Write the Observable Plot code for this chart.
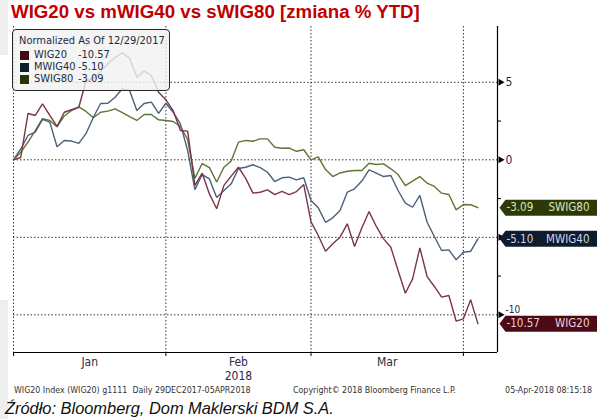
<!DOCTYPE html>
<html><head><meta charset="utf-8">
<script src="https://cdn.jsdelivr.net/npm/d3@7"></script>
<script src="https://cdn.jsdelivr.net/npm/@observablehq/plot@0.6"></script>
<style>
body{margin:0;background:#fff;width:597px;height:419px;position:relative;overflow:hidden;font-family:"DejaVu Sans Condensed","DejaVu Sans",sans-serif;}
.strip{position:absolute;left:0;width:8px;background:#eeeeee}
#title{position:absolute;left:11px;top:0;font:bold 18.7px "Liberation Sans",Arial,sans-serif;color:#c00000;white-space:nowrap;line-height:24px}
#chart{position:absolute;left:0;top:24px}
#legend{position:absolute;left:12px;top:29px;width:156px;height:60px;background:rgba(242,242,242,0.82);border:1px solid #2a2a2a;border-radius:4px;font-size:11px;color:#1c2b42;font-family:"DejaVu Sans Condensed","DejaVu Sans",sans-serif}
#legend .hd{position:absolute;left:6px;top:4px;white-space:nowrap;line-height:13px}
#legend .row{position:absolute;left:7px;white-space:nowrap;line-height:12px;height:12px}
#legend .sw{position:absolute;left:0;top:2px;width:9px;height:9px}
#legend .nm{position:absolute;left:14px;top:0}
#legend .vl{position:absolute;left:58px;top:0}
.foot{position:absolute;top:385px;font-size:8.8px;line-height:10px;color:#333;white-space:nowrap;font-family:"DejaVu Sans Condensed","DejaVu Sans",sans-serif}
#src{position:absolute;left:5px;top:399px;font:italic 16.4px "Liberation Sans",Arial,sans-serif;line-height:18px;color:#111;white-space:nowrap}
</style></head><body>
<div class="strip" style="top:0;height:55px"></div>
<div class="strip" style="top:300px;height:119px"></div>
<div id="title">WIG20 vs mWIG40 vs sWIG80 [zmiana % YTD]</div>
<div id="chart"></div>
<div id="legend"></div>
<div class="foot" style="left:14px">WIG20 Index (WIG20) g1111&nbsp; Daily 29DEC2017-05APR2018</div>
<div class="foot" style="left:293px">Copyright© 2018 Bloomberg Finance L.P.</div>
<div class="foot" style="right:5px">05-Apr-2018 08:15:18</div>
<div id="src">Źródło: Bloomberg, Dom Maklerski BDM S.A.</div>
<script>
// ---- data (normalized % change since 29 Dec 2017, one value per trading day) ----
const seriesNames = ["WIG20", "MWIG40", "SWIG80"];
const wig20 = [0,0.15,2.99,2.86,3.61,2.86,2.15,3.07,3.23,3.39,
  5.1,5.25,5.7,6.2,6.6,6.9,6.55,5.33,5.72,5.44,
  4.36,3.87,3.18,1.89,1.85,-1.65,-0.86,-2.2,-3.16,-1.65,
  -1.05,-0.48,-1.2,-2.15,-2.09,-1.94,-2.24,-2.03,-2.24,-2.05,
  -1.6,-4.0,-4.88,-5.9,-5.42,-4.99,-4.13,-5.59,-4.4,-3.34,
  -4.3,-5.1,-5.64,-7.14,-8.61,-7.68,-5.68,-7.53,-8.17,-8.86,
  -8.75,-10.41,-10.26,-9.03,-10.57];
const mwig40 = [0,0.7,1.57,1.78,2.61,2.43,0.84,1.25,1.21,1.06,
  1.7,2.73,3.63,3.65,4.04,4.58,4.47,3.18,3.63,3.72,
  3.0,3.65,3.07,2.32,0.6,-1.92,-0.95,-1.23,-2.43,-1.98,
  -1.55,-0.56,-0.48,-0.32,-0.5,-0.8,-1.4,-1.16,-1.12,-1.29,
  -1.16,-2.63,-3.1,-4.03,-3.74,-3.27,-2.09,-1.87,-1.37,-0.65,
  -0.86,-1.08,-1.01,-1.98,-2.8,-3.06,-2.3,-4.03,-4.95,-5.85,
  -5.81,-6.45,-5.96,-5.9,-5.1];
const swig80 = [0,0.49,1.14,1.89,2.65,2.54,2.13,2.83,3.18,3.41,
  3.12,2.71,3.07,3.14,3.29,3.05,2.79,2.54,2.92,2.92,
  2.58,2.54,2.47,2.15,1.31,-1.2,-0.24,-0.5,-1.43,-0.48,
  -0.08,1.14,1.25,1.2,1.35,1.35,0.81,0.75,0.76,0.55,
  0.65,0,0.19,-0.63,-1.08,-0.85,-0.74,-0.69,-0.69,-0.22,
  -0.3,-0.26,-0.58,-0.95,-1.66,-1.38,-1.08,-1.51,-1.72,-2.15,
  -2.24,-3.23,-2.88,-2.9,-3.09];
const lastValues = ["-10.57", "-5.10", "-3.09"];
const monthTicks = [0, 21, 41, 62];          // last trading day of Dec, Jan, Feb, Mar
const monthLabels = ["Jan", "Feb", "Mar"];
const monthLabelAt = [10.5, 31, 51.5];
const yearLabel = "2018";
const yearLabelAt = 31;
const yMajor = [5, 0, -5, -10];
const yLabelsShown = [5, 0];                 // -5 is hidden behind the MWIG40 tag
const yLabelsPeek = [-10];                   // -10 peeks out above the WIG20 tag
const yMinor = [2.5, -2.5, -7.5];
const legendTitle = "Normalized As Of 12/29/2017";

// ---- styles ----
const lineColor = {WIG20: "#7a3645", MWIG40: "#4b6079", SWIG80: "#5c7636"};
const swatchColor = {WIG20: "#3f0a14", MWIG40: "#0f1d2d", SWIG80: "#253505"};
const tagColor = {WIG20: "#4a0a16", MWIG40: "#0e1c2e", SWIG80: "#2c3a08"};
const tagText = {WIG20: "#efd0d5", MWIG40: "#cdd8e8", SWIG80: "#dfe3bc"};

const valuesBy = {WIG20: wig20, MWIG40: mwig40, SWIG80: swig80};
const drawOrder = ["SWIG80", "MWIG40", "WIG20"];
const rows = drawOrder.flatMap(n => valuesBy[n].map((v, i) => ({i, v, name: n})));
const lastRows = seriesNames.map((n, k) => ({name: n, v: valuesBy[n][valuesBy[n].length - 1], label: lastValues[k]}));

const xMax = 66.7, yMin = -12.43, yMax = 8.6;
const tag = {draw(ctx) { ctx.moveTo(0, 0); ctx.lineTo(6, -8); ctx.lineTo(100, -8); ctx.lineTo(100, 8); ctx.lineTo(6, 8); ctx.closePath(); }};
const font = "DejaVu Sans Condensed, DejaVu Sans, sans-serif";

const chart = Plot.plot({
  width: 597, height: 362,
  marginLeft: 13, marginRight: 100, marginTop: 2, marginBottom: 34,
  x: {domain: [0, xMax], axis: null},
  y: {domain: [yMin, yMax], axis: null},
  style: {fontFamily: font, background: "transparent", overflow: "visible"},
  marks: [
    Plot.ruleY(yMajor, {stroke: "#333", strokeDasharray: "1.5,2", strokeWidth: 1}),
    Plot.ruleX(monthTicks, {stroke: "#333", strokeDasharray: "1.5,2", strokeWidth: 1}),
    Plot.line(rows, {x: "i", y: "v", z: "name", stroke: d => lineColor[d.name], strokeWidth: 1.4, strokeLinejoin: "miter"}),
    Plot.ruleX([xMax], {stroke: "#000", strokeWidth: 1.2}),
    Plot.ruleY([yMin], {stroke: "#000", strokeWidth: 1.2}),
    Plot.ruleX(monthTicks, {y1: yMin, y2: yMin, insetBottom: -4, stroke: "#000"}),
    Plot.ruleY(yMinor, {x1: xMax, x2: xMax, insetRight: -4, stroke: "#000"}),
    Plot.dot(yMajor, {x: xMax, y: d => d, symbol: "triangle", rotate: 90, r: 2.6, fill: "#000", stroke: "none", dx: 3}),
    Plot.text(yLabelsShown, {x: xMax, y: d => d, text: d => String(d), dx: 8, textAnchor: "start", fill: "#1f2d45", fontSize: 12}),
    Plot.text(yLabelsPeek, {x: xMax, y: d => d, text: d => String(d), dx: 8, dy: -2, lineAnchor: "bottom", textAnchor: "start", fill: "#1f2d45", fontSize: 10}),
    Plot.text(monthLabels, {x: (d, i) => monthLabelAt[i], frameAnchor: "bottom", text: d => d, lineAnchor: "top", dy: 5, fill: "#1f2d45", fontSize: 12}),
    Plot.text([yearLabel], {x: yearLabelAt, frameAnchor: "bottom", text: d => d, lineAnchor: "top", dy: 19, fill: "#1f2d45", fontSize: 12}),
    Plot.dot(lastRows, {x: xMax, y: "v", symbol: tag, fill: d => tagColor[d.name], stroke: "none", dx: 2}),
    Plot.text(lastRows, {x: xMax, y: "v", text: "label", dx: 9, textAnchor: "start", fill: d => tagText[d.name], fontSize: 11.5}),
    Plot.text(lastRows, {x: xMax, y: "v", text: "name", dx: 92, textAnchor: "end", fill: d => tagText[d.name], fontSize: 11.5})
  ]
});
document.getElementById("chart").appendChild(chart);

// legend
const lg = document.getElementById("legend");
const hd = document.createElement("div"); hd.className = "hd"; hd.textContent = legendTitle; lg.appendChild(hd);
seriesNames.forEach((n, k) => {
  const r = document.createElement("div"); r.className = "row"; r.style.top = (19 + 12 * k) + "px";
  const sw = document.createElement("div"); sw.className = "sw"; sw.style.background = swatchColor[n]; r.appendChild(sw);
  const nm = document.createElement("div"); nm.className = "nm"; nm.textContent = n; r.appendChild(nm);
  const vl = document.createElement("div"); vl.className = "vl"; vl.textContent = lastValues[k]; r.appendChild(vl);
  lg.appendChild(r);
});
</script>
</body></html>
